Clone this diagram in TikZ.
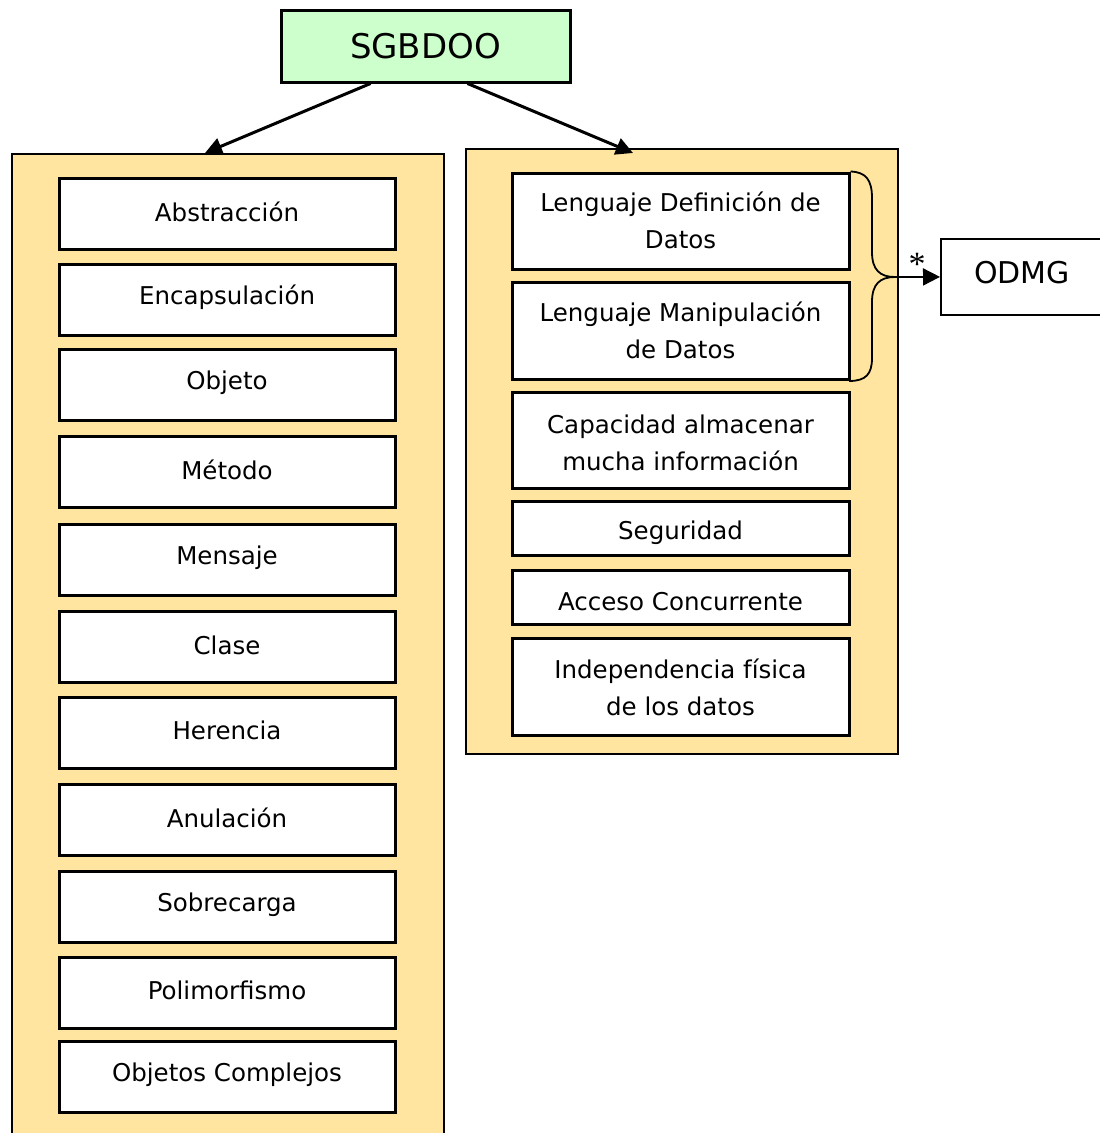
\documentclass[tikz,border=0pt]{standalone}
\usepackage{fontspec}
\setmainfont{DejaVu Sans}
\newfontfamily\serifast{Liberation Serif}
\usetikzlibrary{arrows.meta}
\definecolor{gold}{HTML}{FFE5A0}
\definecolor{mint}{HTML}{CCFFCC}
\tikzset{
  container/.style={draw=black, line width=2pt, fill=gold},
  itembox/.style={draw=black, line width=3pt, fill=white, inner sep=0pt},
  lbl/.style={align=center, font=\fontsize{24.5}{37}\selectfont, inner sep=0pt},
  conn/.style={line width=3pt, -{Triangle[length=17pt,width=17pt]}},
}
\begin{document}
\begin{tikzpicture}[x=1pt,y=-1pt]
\useasboundingbox (0,0) rectangle (1100,1133);
% top node
\node[draw, line width=3pt, fill=mint, minimum width=289pt, minimum height=72pt, inner sep=0pt, font=\fontsize{34}{40}\selectfont] (top) at (425.5,46) {SGBDOO};
% containers
\node[container, minimum width=432pt, minimum height=990pt, inner sep=0pt, anchor=north west] (left) at (11,153) {};
\node[container, minimum width=432pt, minimum height=605pt, inner sep=0pt, anchor=north west] (right) at (465,148) {};
% left items
\foreach \n/\y/\t in {a/213.5/Abstracción, b/299.5/Encapsulación, c/384.5/Objeto, d/472/Método, e/559.5/Mensaje, f/647/Clase, g/732.5/Herencia, h/820/Anulación, i/907/Sobrecarga, j/992.5/Polimorfismo, k/1077/Objetos Complejos}{
  \node[itembox, minimum width=336pt, minimum height=71pt, label={[lbl, yshift=2pt]center:\t}] (\n) at (227,\y) {};
}
% right items
\node[itembox, minimum width=337pt, minimum height=96pt, label={[lbl, yshift=1pt]center:Lenguaje Definición de\\Datos}] (ldd) at (680.5,221) {};
\node[itembox, minimum width=337pt, minimum height=97pt, label={[lbl]center:Lenguaje Manipulación\\de Datos}] (lmd) at (680.5,330.5) {};
\node[itembox, minimum width=337pt, minimum height=96pt, label={[lbl, yshift=-3pt]center:Capacidad almacenar\\mucha información}] (cap) at (680.5,440) {};
\node[itembox, minimum width=337pt, minimum height=54pt, label={[lbl, yshift=-5pt]center:Seguridad}] (seg) at (680.5,528) {};
\node[itembox, minimum width=337pt, minimum height=54pt, label={[lbl, yshift=-5pt]center:Acceso Concurrente}] (acc) at (680.5,597) {};
\node[itembox, minimum width=337pt, minimum height=97pt, label={[lbl, yshift=-1pt]center:Independencia física\\de los datos}] (ind) at (680.5,686.5) {};
% ODMG
\node[draw, line width=1.8pt, fill=white, minimum width=175pt, minimum height=76pt, inner sep=0pt, anchor=north west] (odmg) at (940,238) {};
\node[font=\fontsize{30}{34}\selectfont] (odmgt) at (1022,273) {ODMG};
% brace
\coordinate (tip) at (895,277);
\draw[line width=1.8pt] (ldd.north east) .. controls (866,172) and (872,180) .. (872,198) -- (872,252) .. controls (872,270) and (880,277) .. (tip)
  .. controls (880,277) and (872,284) .. (872,302) -- (872,358) .. controls (872,374) and (866,381) .. (849,381);
\draw[line width=1.8pt, -{Triangle[length=17pt,width=17pt]}] (tip) -- (odmg.west);
\node[font=\fontsize{34}{34}\selectfont\serifast] (ast) at (917,264) {*};
% connectors
\coordinate (t1) at ([xshift=-55pt]top.south);
\coordinate (t2) at ([xshift=42pt]top.south);
\coordinate (l1) at (205,153);
\coordinate (r1) at (633,153);
\draw[conn] (t1) -- (l1);
\draw[conn] (t2) -- (r1);
\end{tikzpicture}
\end{document}
